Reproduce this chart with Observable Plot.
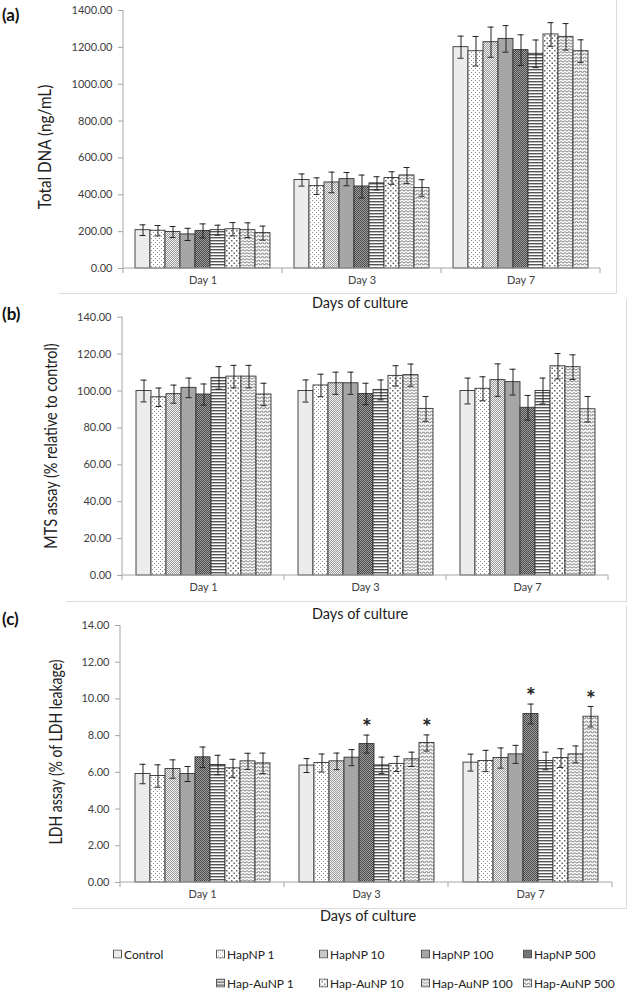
<!DOCTYPE html>
<html>
<head>
<meta charset="utf-8">
<script src="https://cdn.jsdelivr.net/npm/d3@7"></script>
<script src="https://cdn.jsdelivr.net/npm/@observablehq/plot@0.6"></script>
<style>
  body { margin: 0; background: #fff; font-family: Lato, "Open Sans", sans-serif; }
  #page { position: relative; width: 627px; height: 992px; overflow: hidden; background: #fff; }
  .abs { position: absolute; }
  .plabel { font-weight: bold; font-size: 17px; color: #111; transform: translateY(-50%); white-space: nowrap; }
  .ytitle { font-size: 16.5px; color: #222; transform: translate(-50%, -50%) rotate(-90deg); white-space: nowrap; }
  .xtitle { font-size: 14.5px; color: #222; transform: translate(-50%, -50%); white-space: nowrap; }
  .frame { border-right: 1px solid #dcdcdc; border-bottom: 1px solid #dcdcdc; box-sizing: border-box; }
  .leg { font-size: 12px; color: #222; transform: translateY(-50%); white-space: nowrap; display: flex; align-items: center; }
  .leg svg { margin-right: 2px; }
  svg g[aria-label^="y-axis"] line, svg g[aria-label^="y-axis"] path { stroke: #a6a6a6; }
</style>
</head>
<body>
<div id="page">
<svg width="0" height="0" style="position:absolute">
  <defs>
    <pattern id="pat0" patternUnits="userSpaceOnUse" width="4" height="4"><rect width="4" height="4" fill="#ececec"/></pattern>
    <pattern id="pat1" patternUnits="userSpaceOnUse" width="4" height="4"><rect width="4" height="4" fill="#fff"/><rect x="0" y="0" width="1" height="1" fill="#8c8c8c"/><rect x="2" y="2" width="1" height="1" fill="#8c8c8c"/></pattern>
    <pattern id="pat2" patternUnits="userSpaceOnUse" width="2" height="2"><rect width="2" height="2" fill="#f4f4f4"/><rect x="0" y="0" width="1" height="1" fill="#999"/><rect x="1" y="1" width="1" height="1" fill="#999"/></pattern>
    <pattern id="pat3" patternUnits="userSpaceOnUse" width="4" height="4"><rect width="4" height="4" fill="#a6a6a6"/></pattern>
    <pattern id="pat4" patternUnits="userSpaceOnUse" width="2" height="2"><rect width="2" height="2" fill="#a0a0a0"/><rect x="0" y="0" width="1" height="1" fill="#484848"/><rect x="1" y="1" width="1" height="1" fill="#484848"/></pattern>
    <pattern id="pat5" patternUnits="userSpaceOnUse" width="4" height="3"><rect width="4" height="3" fill="#fff"/><rect x="0" y="0" width="4" height="1.4" fill="#555"/></pattern>
    <pattern id="pat6" patternUnits="userSpaceOnUse" width="5" height="5"><rect width="5" height="5" fill="#fff"/><rect x="0" y="0" width="1.5" height="1.5" fill="#666"/><rect x="2.5" y="2.5" width="1.5" height="1.5" fill="#666"/></pattern>
    <pattern id="pat7" patternUnits="userSpaceOnUse" width="4" height="3"><rect width="4" height="3" fill="#fff"/><path d="M0,2.2 L2,0.6 L4,2.2" fill="none" stroke="#666" stroke-width="0.9"/></pattern>
    <pattern id="pat8" patternUnits="userSpaceOnUse" width="4" height="3.5"><rect width="4" height="3.5" fill="#fff"/><path d="M0,2.5 L1,1 L2,1 L3,2.5 L4,2.5" fill="none" stroke="#777" stroke-width="0.9"/></pattern>
  </defs>
</svg>
</div>
<script>
// ---------- data ----------
const series = ["Control", "HapNP 1", "HapNP 10", "HapNP 100", "HapNP 500",
                "Hap-AuNP 1", "Hap-AuNP 10", "Hap-AuNP 100", "Hap-AuNP 500"];
const days = ["Day 1", "Day 3", "Day 7"];

// (a) Total DNA (ng/mL)
const dnaMean = [
  [208, 205, 198, 185, 204, 208, 213, 208, 192],
  [480, 447, 467, 485, 445, 462, 491, 505, 437],
  [1201, 1179, 1228, 1246, 1185, 1165, 1270, 1257, 1179]
];
const dnaErr = [
  [29, 28, 30, 33, 38, 27, 36, 40, 38],
  [33, 45, 56, 36, 62, 36, 34, 43, 45],
  [60, 80, 82, 72, 83, 75, 64, 72, 62]
];
const dnaTicks = [0, 200, 400, 600, 800, 1000, 1200, 1400];

// (b) MTS assay (% relative to control)
const mtsMean = [
  [100, 96.6, 98.3, 101.7, 98.1, 107.1, 107.8, 107.8, 98.1],
  [100, 103.0, 104.2, 104.2, 98.4, 100.6, 108.2, 108.6, 90.3],
  [100, 101.2, 105.9, 104.8, 90.9, 100.0, 113.4, 112.9, 90.1]
];
const mtsErr = [
  [5.9, 5.0, 4.9, 5.3, 5.7, 6.1, 6.1, 6.1, 6.1],
  [6.0, 6.1, 6.0, 6.0, 5.8, 5.4, 5.5, 6.0, 6.7],
  [7.0, 6.5, 8.8, 7.0, 6.7, 7.0, 6.9, 6.7, 6.9]
];
const mtsTicks = [0, 20, 40, 60, 80, 100, 120, 140];

// (c) LDH assay (% of LDH leakage)
const ldhMean = [
  [5.91, 5.80, 6.18, 5.91, 6.82, 6.40, 6.22, 6.60, 6.49],
  [6.37, 6.51, 6.60, 6.80, 7.54, 6.38, 6.46, 6.71, 7.60],
  [6.53, 6.62, 6.78, 6.98, 9.18, 6.62, 6.78, 6.98, 9.03]
];
const ldhErr = [
  [0.53, 0.61, 0.50, 0.41, 0.56, 0.53, 0.49, 0.44, 0.56],
  [0.38, 0.49, 0.45, 0.44, 0.49, 0.45, 0.41, 0.39, 0.44],
  [0.46, 0.58, 0.55, 0.49, 0.54, 0.48, 0.51, 0.46, 0.56]
];
const ldhSig = [
  [0, 0, 0, 0, 0, 0, 0, 0, 0],
  [0, 0, 0, 0, 1, 0, 0, 0, 1],
  [0, 0, 0, 0, 1, 0, 0, 0, 1]
];
const ldhTicks = [0, 2, 4, 6, 8, 10, 12, 14];

const panelLabels = ["(a)", "(b)", "(c)"];
const yTitles = ["Total DNA (ng/mL)", "MTS assay (% relative to control)", "LDH assay (% of LDH leakage)"];
const xTitle = "Days of culture";

// ---------- build ----------
const page = document.getElementById("page");

function addDiv(cls, text, left, top, extra) {
  const d = document.createElement("div");
  d.className = "abs " + cls;
  d.textContent = text;
  d.style.left = left + "px";
  d.style.top = top + "px";
  if (extra) Object.assign(d.style, extra);
  page.appendChild(d);
  return d;
}

function makePanel(cfg) {
  const rows = [];
  days.forEach((day, di) => series.forEach((s, si) => rows.push({
    day, series: s, value: cfg.mean[di][si], err: cfg.err[di][si],
    pat: `url(#pat${si})`, sig: cfg.sig ? cfg.sig[di][si] : 0
  })));
  const ticks = cfg.ticks;
  const chart = Plot.plot({
    width: 627,
    height: cfg.height,
    marginTop: cfg.marginTop,
    marginBottom: cfg.marginBottom,
    marginLeft: cfg.marginLeft,
    marginRight: cfg.marginRight,
    style: {background: "transparent", fontFamily: "Lato, 'Open Sans', sans-serif", fontSize: "11px", color: "#404040", overflow: "visible"},
    facet: {data: rows, x: "day"},
    fx: {domain: days, padding: 0, label: null, axis: "bottom", tickSize: 0, tickPadding: 8},
    x: {domain: series, paddingInner: 0, paddingOuter: 0.75, axis: null},
    y: {domain: [ticks[0], ticks[ticks.length - 1]], ticks, tickFormat: d => d.toFixed(2), label: null, tickSize: 5, tickPadding: 6},
    color: {type: "identity"},
    marks: [
      Plot.barY(rows, {x: "series", y: "value", fill: "pat", stroke: "#333", strokeWidth: 0.9}),
      Plot.ruleX(rows, {x: "series", y1: d => d.value - d.err, y2: d => d.value + d.err, stroke: "#222", strokeWidth: 1}),
      Plot.tickY(rows, {x: "series", y: d => d.value - d.err, stroke: "#222", strokeWidth: 1, insetLeft: 4.5, insetRight: 4.5}),
      Plot.tickY(rows, {x: "series", y: d => d.value + d.err, stroke: "#222", strokeWidth: 1, insetLeft: 4.5, insetRight: 4.5}),
      Plot.text(rows, {filter: d => d.sig, x: "series", y: d => d.value + d.err, text: () => "*", dy: -7, fontSize: 23, fontWeight: "bold", fill: "#222"})
    ]
  });
  // Excel-style axis lines and category-boundary ticks drawn from the plot's scales
  const svg = d3.select(chart);
  const fx = chart.scale("fx"), y = chart.scale("y");
  const y0 = y.apply(ticks[0]);
  const yTop = y.apply(ticks[ticks.length - 1]);
  const left = fx.apply(days[0]);
  const right = fx.apply(days[days.length - 1]) + fx.bandwidth;
  const g = svg.append("g").attr("stroke", "#a6a6a6").attr("stroke-width", 1);
  g.append("line").attr("x1", left).attr("x2", left).attr("y1", yTop).attr("y2", y0);
  g.append("line").attr("x1", left).attr("x2", right).attr("y1", y0).attr("y2", y0);
  const bx = days.map(d => fx.apply(d)).concat([right]);
  bx.forEach(x => g.append("line").attr("x1", x).attr("x2", x).attr("y1", y0).attr("y2", y0 + 5));

  chart.style.position = "absolute";
  chart.style.left = "0px";
  chart.style.top = cfg.top + "px";
  page.appendChild(chart);
}

// chart-area frames (light Excel borders)
addDiv("frame", "", 59, -1, {width: "558px", height: "295px"});
addDiv("frame", "", 66, 299, {width: "561px", height: "303px"});
addDiv("frame", "", 72, 606, {width: "555px", height: "303px"});

makePanel({mean: dnaMean, err: dnaErr, ticks: dnaTicks, top: 0, height: 290, marginTop: 10, marginBottom: 22, marginLeft: 122, marginRight: 27});
makePanel({mean: mtsMean, err: mtsErr, ticks: mtsTicks, top: 305, height: 290, marginTop: 11.7, marginBottom: 20, marginLeft: 122, marginRight: 19});
makePanel({mean: ldhMean, err: ldhErr, sig: ldhSig, ticks: ldhTicks, top: 615, height: 287, marginTop: 10, marginBottom: 20, marginLeft: 119, marginRight: 14});

// labels
addDiv("plabel", panelLabels[0], 2, 14);
addDiv("plabel", panelLabels[1], 2, 313);
addDiv("plabel", panelLabels[2], 2, 618);
const titleLens = [125, 205, 185];
[[45, 147], [51, 446], [56, 752]].forEach(([x, yy], i) => {
  const d = addDiv("ytitle", yTitles[i], x, yy);
  const k = titleLens[i] / d.offsetWidth; // condense like the reference's narrow font
  d.style.transform = `translate(-50%, -50%) rotate(-90deg) scaleX(${k.toFixed(3)})`;
});
addDiv("xtitle", xTitle, 360, 302);
addDiv("xtitle", xTitle, 360, 613);
addDiv("xtitle", xTitle, 368, 915);

// legend
const legendCols = [113, 216, 319, 421, 523];
const legendPos = [
  [legendCols[0], 954], [legendCols[1], 954], [legendCols[2], 954], [legendCols[3], 954], [legendCols[4], 954],
  [legendCols[1], 983], [legendCols[2], 983], [legendCols[3], 983], [legendCols[4], 983]
];
series.forEach((s, i) => {
  const d = addDiv("leg", "", legendPos[i][0], legendPos[i][1]);
  d.innerHTML = `<svg width="9" height="9"><rect x="0.5" y="0.5" width="8" height="8" fill="url(#pat${i})" stroke="#555" stroke-width="1"/></svg><span>${s}</span>`;
});
</script>
</body>
</html>
